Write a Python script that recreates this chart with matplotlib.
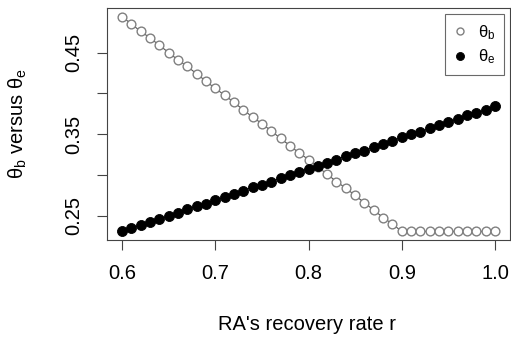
import numpy as np
import matplotlib.pyplot as plt

plt.rcParams['font.family'] = ['Liberation Sans', 'DejaVu Sans']
plt.rcParams['mathtext.fontset'] = 'custom'
plt.rcParams['mathtext.rm'] = 'Liberation Sans'
plt.rcParams['mathtext.it'] = 'Liberation Sans'

# recovery rate r
r = [0.60, 0.61, 0.62, 0.63, 0.64, 0.65, 0.66, 0.67, 0.68, 0.69,
     0.70, 0.71, 0.72, 0.73, 0.74, 0.75, 0.76, 0.77, 0.78, 0.79,
     0.80, 0.81, 0.82, 0.83, 0.84, 0.85, 0.86, 0.87, 0.88, 0.89,
     0.90, 0.91, 0.92, 0.93, 0.94, 0.95, 0.96, 0.97, 0.98, 0.99, 1.00]

theta_b = [0.494, 0.485, 0.476, 0.468, 0.459, 0.450, 0.441, 0.433, 0.424, 0.415,
           0.406, 0.398, 0.389, 0.380, 0.371, 0.363, 0.354, 0.345, 0.336, 0.327,
           0.319, 0.310, 0.301, 0.292, 0.284, 0.275, 0.266, 0.257, 0.248, 0.240,
           0.231, 0.231, 0.231, 0.231, 0.231, 0.231, 0.231, 0.231, 0.231, 0.231, 0.231]

theta_e = [0.231, 0.235, 0.239, 0.242, 0.246, 0.250, 0.254, 0.258, 0.262, 0.265,
           0.269, 0.273, 0.277, 0.281, 0.285, 0.288, 0.292, 0.296, 0.300, 0.304,
           0.308, 0.311, 0.315, 0.319, 0.323, 0.327, 0.330, 0.334, 0.338, 0.342,
           0.346, 0.350, 0.353, 0.357, 0.361, 0.365, 0.369, 0.373, 0.376, 0.380, 0.384]

yticks = [0.25, 0.30, 0.35, 0.40, 0.45]
ylabels = ['0.25', '', '0.35', '', '0.45']
xticks = [0.6, 0.7, 0.8, 0.9, 1.0]
xlabels = ['0.6', '0.7', '0.8', '0.9', '1.0']

W, H = 511, 340
fig = plt.figure(figsize=(W / 100, H / 100), dpi=100)
ax = fig.add_axes([107 / W, 1 - 240 / H, (510 - 107) / W, (240 - 8) / H])

ax.plot(r, theta_b, '-o', color='#555555', lw=0.8, ms=6.3, mfc='white',
        mec='#808080', mew=1.0, label=r'$\theta_\mathrm{b}$')
ax.plot(r, theta_e, '-o', color='black', lw=0.8, ms=7.2, mfc='black',
        mec='black', mew=0.6, label=r'$\theta_\mathrm{e}$')

ax.set_xlim(0.584, 1.016)
ax.set_ylim(0.2205, 0.5045)
ax.set_xticks(xticks)
ax.set_xticklabels(xlabels)
ax.set_yticks(yticks)
ax.set_yticklabels(ylabels, rotation=90, va='center')
ax.tick_params(direction='out', length=7, width=0.8, labelsize=14.5, pad=10,
               color='#444444')
for s in ax.spines.values():
    s.set_linewidth(0.8)
    s.set_color('#444444')

fig.text(307 / W, 1 - 330 / H, "RA's recovery rate r", fontsize=14.5,
         ha='center', va='baseline')
fig.text(18 / W, 1 - 124 / H, r'$\theta_\mathrm{b}$ versus $\theta_\mathrm{e}$',
         fontsize=14.5, rotation=90, ha='center', va='center')

leg = ax.legend(loc='upper right', fontsize=12, frameon=True, fancybox=False,
                handlelength=0.7, handletextpad=0.7, borderpad=0.55,
                labelspacing=0.35, borderaxespad=0.35, markerscale=0.8)
leg.get_frame().set_edgecolor('#444444')
leg.get_frame().set_linewidth(0.8)
for h in leg.legend_handles:
    h.set_linestyle('None')

fig.savefig('out.png', dpi=100)
